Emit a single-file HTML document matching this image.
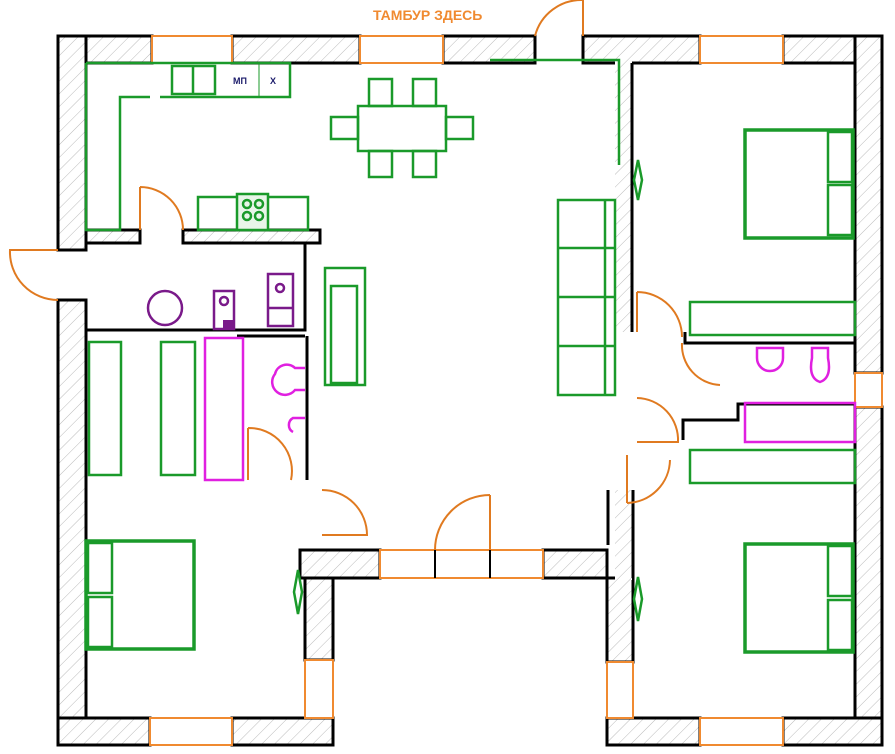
<!DOCTYPE html>
<html><head><meta charset="utf-8"><style>
html,body{margin:0;padding:0;background:#fff;width:895px;height:754px;overflow:hidden}
svg{display:block}
</style></head><body>
<svg width="895" height="754" viewBox="0 0 895 754" xmlns="http://www.w3.org/2000/svg">
<defs>
<pattern id="h" width="9" height="9" patternUnits="userSpaceOnUse" patternTransform="rotate(45)">
<rect width="9" height="9" fill="#fff"/><line x1="0" y1="0" x2="0" y2="9" stroke="#bbb" stroke-width="1"/>
</pattern>
</defs>
<text x="373" y="20" font-family="Liberation Sans, DejaVu Sans, sans-serif" font-weight="bold" font-size="14" fill="#f08a30">ТАМБУР ЗДЕСЬ</text>

<g fill="url(#h)" stroke="#000" stroke-width="3">
<rect x="58" y="36" width="94" height="27"/>
<rect x="58" y="36" width="28" height="214"/>
<rect x="232" y="36" width="128" height="27"/>
<rect x="443" y="36" width="92" height="27"/>
<rect x="583" y="36" width="117" height="27"/>
<rect x="783" y="36" width="99" height="27"/>
<rect x="855" y="36" width="27" height="337"/>
<rect x="855" y="407" width="27" height="338"/>
<rect x="58" y="300" width="28" height="445"/>
<rect x="58" y="718" width="92" height="27"/>
<rect x="232" y="718" width="101" height="27"/>
<rect x="305" y="578" width="28" height="82"/>
<rect x="300" y="550" width="80" height="28"/>
<rect x="543" y="550" width="64" height="28"/>
<rect x="607" y="578" width="26" height="84"/>
<rect x="607" y="718" width="93" height="27"/>
<rect x="783" y="718" width="99" height="27"/>
<rect x="86" y="230" width="54" height="13"/>
<rect x="183" y="230" width="137" height="13"/>
</g>
<g fill="url(#h)" stroke="none">
<rect x="615" y="60" width="17" height="272"/>
<rect x="615" y="490" width="17" height="90"/>
</g>
<g stroke="#000" stroke-width="3" fill="none">
<line x1="632" y1="63" x2="632" y2="332"/>
<line x1="632" y1="63" x2="700" y2="63"/>
<line x1="633" y1="490" x2="633" y2="578"/>
<polyline points="86,330 305,330 305,243"/>
<line x1="307" y1="336" x2="307" y2="480"/>
<line x1="237" y1="336" x2="305" y2="336"/>
<polyline points="685,332 685,343 855,343"/>
<polyline points="683,440 683,420 738,420 738,404 855,404"/>
<line x1="608" y1="490" x2="608" y2="545"/>
</g>
<g fill="#fff" stroke="#f08a30" stroke-width="2">
<rect x="152" y="36" width="80" height="27"/>
<rect x="360" y="36" width="83" height="27"/>
<rect x="700" y="36" width="83" height="27"/>
<rect x="855" y="373" width="27" height="34"/>
<rect x="150" y="718" width="82" height="27"/>
<rect x="700" y="718" width="83" height="27"/>
<rect x="305" y="660" width="28" height="58"/>
<rect x="607" y="662" width="26" height="56"/>
<rect x="380" y="550" width="163" height="28"/>
</g>
<line x1="490" y1="550" x2="490" y2="578" stroke="#000" stroke-width="2"/>
<line x1="435" y1="550" x2="435" y2="578" stroke="#000" stroke-width="2"/>
<g fill="none" stroke="#e07a20" stroke-width="2">
<path d="M58,250 H10 A48,48 0 0 0 58,300"/>
<path d="M140,187 V230 M140,187 A43,43 0 0 1 183,230"/>
<path d="M583,36 V0 M535,36 A48,48 0 0 1 583,0"/>
<path d="M637,292 V332 M637,292 A45,45 0 0 1 682,337"/>
<path d="M682,343 A40,40 0 0 0 720,385"/>
<path d="M248,428 V480 M248,428 A43,43 0 0 1 291,480"/>
<path d="M322,490 A45,45 0 0 1 367,535 H322"/>
<path d="M490,495 V550 M490,495 A55,55 0 0 0 435,550"/>
<path d="M637,398 A42,42 0 0 1 678,442 H637"/>
<path d="M627,455 V503 M627,503 A44,44 0 0 0 670,460"/>
</g>
<g fill="none" stroke="#1a9a2a" stroke-width="2.5">
<polyline points="86,63 290,63 290,97 160,97"/>
<polyline points="86,63 86,230 120,230 120,97 150,97"/>
<rect x="172" y="66" width="43" height="28"/>
<line x1="193" y1="66" x2="193" y2="94"/>
<line x1="259" y1="63" x2="259" y2="97" stroke-width="1"/>
<rect x="198" y="197" width="110" height="33"/>
<rect x="237" y="194" width="31" height="36" fill="#e8f5e8"/>
<circle cx="247" cy="204" r="4"/><circle cx="259" cy="204" r="4"/><circle cx="247" cy="216" r="4"/><circle cx="259" cy="216" r="4"/>
<rect x="358" y="106" width="88" height="45"/>
<rect x="369" y="79" width="23" height="27"/><rect x="413" y="79" width="23" height="27"/>
<rect x="369" y="151" width="23" height="26"/><rect x="413" y="151" width="23" height="26"/>
<rect x="331" y="117" width="27" height="22"/><rect x="446" y="117" width="27" height="22"/>
<polyline points="490,60 619,60 619,165"/>
<rect x="558" y="200" width="57" height="195"/>
<line x1="558" y1="248" x2="615" y2="248"/><line x1="558" y1="297" x2="615" y2="297"/><line x1="558" y1="346" x2="615" y2="346"/>
<line x1="605" y1="200" x2="605" y2="395"/>
<rect x="325" y="268" width="40" height="117"/>
<rect x="331" y="286" width="26" height="97"/>
<rect x="745" y="130" width="108" height="108" stroke-width="3.5"/>
<rect x="828" y="132" width="24" height="50"/><rect x="828" y="185" width="24" height="50"/>
<rect x="745" y="544" width="108" height="108" stroke-width="3.5"/>
<rect x="828" y="546" width="24" height="50"/><rect x="828" y="600" width="24" height="50"/>
<rect x="86" y="541" width="108" height="108" stroke-width="3.5"/>
<rect x="88" y="543" width="24" height="50"/><rect x="88" y="597" width="24" height="50"/>
<rect x="690" y="302" width="165" height="33"/>
<rect x="690" y="450" width="165" height="33"/>
<rect x="89" y="342" width="32" height="133"/>
<rect x="161" y="342" width="34" height="133"/>
<path d="M638,160 l-4,20 l4,20 l4,-20 z"/>
<path d="M298,570 l-4,22 l4,22 l4,-22 z"/>
<path d="M638,577 l-4,22 l4,22 l4,-22 z"/>
</g>
<text x="233" y="84" font-family="Liberation Sans, sans-serif" font-size="9" font-weight="bold" fill="#1a1a6a">МП</text>
<text x="270" y="84" font-family="Liberation Sans, sans-serif" font-size="9" font-weight="bold" fill="#1a1a6a">Х</text>
<g fill="none" stroke="#7a1a8a" stroke-width="2.5">
<circle cx="165" cy="308" r="17"/>
<rect x="214" y="291" width="20" height="38"/>
<circle cx="224" cy="301" r="4"/>
<rect x="268" y="274" width="25" height="52"/>
<line x1="268" y1="308" x2="293" y2="308"/>
<circle cx="280" cy="288" r="4"/>
</g>
<rect x="223" y="320" width="10" height="9" fill="#7a1a8a"/>
<g fill="none" stroke="#e020e0" stroke-width="2.5">
<rect x="205" y="338" width="38" height="142"/>
<path d="M305,368 h-10 a12,12 0 0 0 -20,6 a12,12 0 0 0 20,16 h10"/>
<path d="M305,418 h-12 a8,8 0 0 0 0,14"/>
<path d="M757,348 h26 v10 a13,13 0 0 1 -26,0 z"/>
<path d="M812,348 h16 v10 q4,20 -8,24 q-12,-4 -8,-24 z"/>
<rect x="745" y="403" width="110" height="39"/>
</g>
</svg>
</body></html>
